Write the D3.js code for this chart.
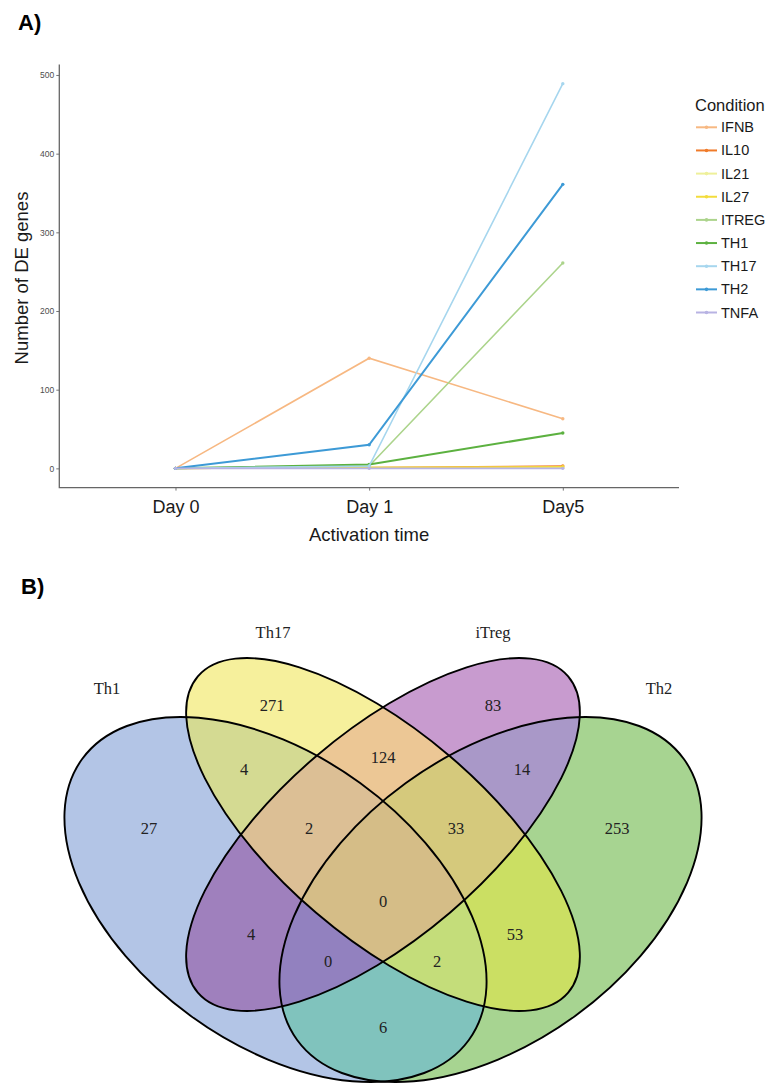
<!DOCTYPE html>
<html>
<head>
<meta charset="utf-8">
<script src="https://cdn.jsdelivr.net/npm/d3@7"></script>
<style>
  body { margin: 0; background: #fff; }
  svg { display: block; }
  .sans { font-family: "Liberation Sans", Arial, Helvetica, sans-serif; }
  .serif { font-family: "Liberation Serif", "Times New Roman", serif; }
</style>
</head>
<body>
<svg id="fig" width="769" height="1085"></svg>
<script>
// ---- panel A data ----
var days       = ["Day 0", "Day 1", "Day5"];
var conditions = ["IFNB", "IL10", "IL21", "IL27", "ITREG", "TH1", "TH17", "TH2", "TNFA"];
var ifnb  = [0, 140, 63]
  , il10  = [0, 1, 3]
  , il21  = [0, 1, 1]
  , il27  = [0, 1, 2]
  , itreg = [0, 3, 261]
  , th1   = [0, 5, 45]
  , th17  = [0, 3, 489]
  , th2   = [0, 30, 361]
  , tnfa  = [0, 0, 0];
var yTicks = [0, 100, 200, 300, 400, 500];

// ---- panel B data ----
var setNames     = ["Th1", "Th17", "iTreg", "Th2"];
// membership code: Th1 Th17 iTreg Th2
var regionKeys   = ["1000", "0100", "0010", "0001", "1100", "0110", "0011", "1110", "0111", "1111", "1010", "0101", "1011", "1101", "1001"];
var regionCounts = [27, 271, 83, 253, 4, 124, 14, 2, 33, 0, 4, 53, 0, 2, 6];

// ---- styles / layout ----
var lineColors = ["#f7b882", "#f07b2a", "#eef09a", "#f3dc3c", "#acd48c", "#5cb140", "#a6d6ee", "#3d9ad6", "#b8b3e3"];
var regionColors = {
  "1000": "#b3c5e6", "0100": "#f6f09c", "0010": "#c89bcf", "0001": "#a7d491",
  "1100": "#d4da92", "0110": "#ecc795", "0011": "#a998c8", "1110": "#dcbf95",
  "0111": "#d5c97c", "1111": "#d5bd87", "1010": "#9f80bd", "0101": "#cbdf63",
  "1011": "#9281bf", "1101": "#c4dd7a", "1001": "#80c3bd"
};
// ellipses relative to the venn centre: dx, dy, rx, ry, rotation
var vennShapes = [
  [-107.5, 65, 239, 144, 36],
  [0, 0, 243.5, 103, 40.5],
  [0, 0, 243.5, 103, -40.5],
  [107.5, 65, 239, 144, -36]
];
var setLabelPos   = [[-276, -146], [-110, -202], [110, -202], [276, -146]];
var regionLabelPos = {
  "1000": [-234, -6], "0100": [-111, -129], "0010": [110, -129], "0001": [234, -6],
  "1100": [-139, -65], "0110": [0, -77], "0011": [139, -65], "1110": [-74, -6],
  "0111": [73, -6], "1111": [0, 67], "1010": [-132, 100], "0101": [132, 100],
  "1011": [-55, 127], "1101": [54, 127], "1001": [0, 193]
};

var svg = d3.select("#fig");

// ================= Panel A =================
var series = [ifnb, il10, il21, il27, itreg, th1, th17, th2, tnfa];

var panel = { left: 59.3, right: 679, top: 64.4, bottom: 487.6 };
var ymax = d3.max(series, function (s) { return d3.max(s); })
  , pad  = ymax * 0.05;

var x = d3.scalePoint().domain(days).range([panel.left, panel.right]).padding(0.6);
var y = d3.scaleLinear().domain([-pad, ymax + pad]).range([panel.bottom, panel.top]);

svg.append("text").attr("class", "sans")
  .attr("x", 18).attr("y", 30)
  .style("font-size", "22px").style("font-weight", "bold")
  .text("A)");

var gA = svg.append("g");

var yAxis = gA.append("g")
  .attr("transform", "translate(" + panel.left + ",0)")
  .call(d3.axisLeft(y).tickValues(yTicks).tickSize(3).tickPadding(2));
var xAxis = gA.append("g")
  .attr("transform", "translate(0," + panel.bottom + ")")
  .call(d3.axisBottom(x).tickSize(3).tickPadding(10));

[yAxis, xAxis].forEach(function (ax) {
  ax.select(".domain").remove();
  ax.selectAll(".tick line").attr("stroke", "#666").attr("stroke-width", 0.9);
});
yAxis.selectAll(".tick text").attr("class", "sans")
  .style("font-size", "8.5px").attr("fill", "#4d4d4d");
xAxis.selectAll(".tick text").attr("class", "sans")
  .style("font-size", "18px").attr("fill", "#1a1a1a");

// L-shaped axis lines (classic theme)
gA.append("path")
  .attr("d", "M" + panel.left + "," + panel.top + "V" + panel.bottom + "H" + panel.right)
  .attr("fill", "none").attr("stroke", "#666").attr("stroke-width", 1.3);

gA.append("text").attr("class", "sans")
  .attr("transform", "translate(28," + ((panel.top + panel.bottom) / 2 + 2) + ") rotate(-90)")
  .attr("text-anchor", "middle")
  .style("font-size", "18.5px").attr("fill", "#1a1a1a")
  .text("Number of DE genes");

gA.append("text").attr("class", "sans")
  .attr("x", x("Day 1")).attr("y", 541)
  .attr("text-anchor", "middle")
  .style("font-size", "18.5px").attr("fill", "#1a1a1a")
  .text("Activation time");

var line = d3.line()
  .x(function (d, i) { return x(days[i]); })
  .y(function (d) { return y(d); });

series.forEach(function (s, k) {
  var g = gA.append("g");
  g.append("path")
    .attr("d", line(s))
    .attr("fill", "none")
    .attr("stroke", lineColors[k])
    .attr("stroke-width", (conditions[k] == "TH1" || conditions[k] == "TH2") ? 2 : 1.6);
  g.selectAll("circle").data(s).enter().append("circle")
    .attr("cx", function (d, i) { return x(days[i]); })
    .attr("cy", function (d) { return y(d); })
    .attr("r", 1.7)
    .attr("fill", lineColors[k]);
});

// legend
var legend = svg.append("g").attr("transform", "translate(695,0)");
legend.append("text").attr("class", "sans")
  .attr("x", 0).attr("y", 110.5)
  .style("font-size", "16.5px").attr("fill", "#1a1a1a")
  .text("Condition");

var legRow = d3.scaleLinear().domain([0, 1]).range([127.3, 150.45]);
conditions.forEach(function (c, i) {
  var row = legend.append("g").attr("transform", "translate(0," + legRow(i) + ")");
  row.append("line").attr("x1", 1).attr("x2", 22)
    .attr("stroke", lineColors[i]).attr("stroke-width", 2);
  row.append("circle").attr("cx", 11.5).attr("r", 1.8).attr("fill", lineColors[i]);
  row.append("text").attr("class", "sans")
    .attr("x", 26).attr("y", 5)
    .style("font-size", "14.5px").attr("fill", "#1a1a1a")
    .text(c);
});

// ================= Panel B =================
svg.append("text").attr("class", "sans")
  .attr("x", 21).attr("y", 594)
  .style("font-size", "22px").style("font-weight", "bold")
  .text("B)");

var vc = { x: 383, y: 834.5 };
var gB = svg.append("g").attr("transform", "translate(" + vc.x + "," + vc.y + ")");
var defs = svg.append("defs");

function shapeAttrs(sel, s) {
  return sel.attr("cx", 0).attr("cy", 0)
    .attr("rx", s[2]).attr("ry", s[3])
    .attr("transform", "translate(" + s[0] + "," + s[1] + ") rotate(" + s[4] + ")");
}

vennShapes.forEach(function (s, i) {
  defs.append("clipPath").attr("id", "set" + i)
    .call(function (cp) { shapeAttrs(cp.append("ellipse"), s); });
});

// fill every region separately: clip by the sets it is in, mask out the others
regionKeys.forEach(function (key) {
  var m = defs.append("mask").attr("id", "m" + key)
    .attr("maskUnits", "userSpaceOnUse")
    .attr("x", -400).attr("y", -400).attr("width", 800).attr("height", 800);
  m.append("rect").attr("x", -400).attr("y", -400).attr("width", 800).attr("height", 800).attr("fill", "#fff");
  var g = gB;
  key.split("").forEach(function (b, i) {
    if (b == "1") g = g.append("g").attr("clip-path", "url(#set" + i + ")");
    else shapeAttrs(m.append("ellipse"), vennShapes[i]).attr("fill", "#000");
  });
  g.append("rect")
    .attr("x", -400).attr("y", -400).attr("width", 800).attr("height", 800)
    .attr("fill", regionColors[key])
    .attr("mask", "url(#m" + key + ")");
});

vennShapes.forEach(function (s) {
  shapeAttrs(gB.append("ellipse"), s)
    .attr("fill", "none").attr("stroke", "#000").attr("stroke-width", 1.9);
});

setNames.forEach(function (n, i) {
  gB.append("text").attr("class", "serif")
    .attr("x", setLabelPos[i][0]).attr("y", setLabelPos[i][1])
    .attr("text-anchor", "middle").attr("dy", "0.35em")
    .style("font-size", "16.5px").attr("fill", "#222")
    .text(n);
});

regionKeys.forEach(function (key, i) {
  gB.append("text").attr("class", "serif")
    .attr("x", regionLabelPos[key][0]).attr("y", regionLabelPos[key][1])
    .attr("text-anchor", "middle").attr("dy", "0.35em")
    .style("font-size", "16.5px").attr("fill", "#222")
    .text(regionCounts[i]);
});
</script>
</body>
</html>
